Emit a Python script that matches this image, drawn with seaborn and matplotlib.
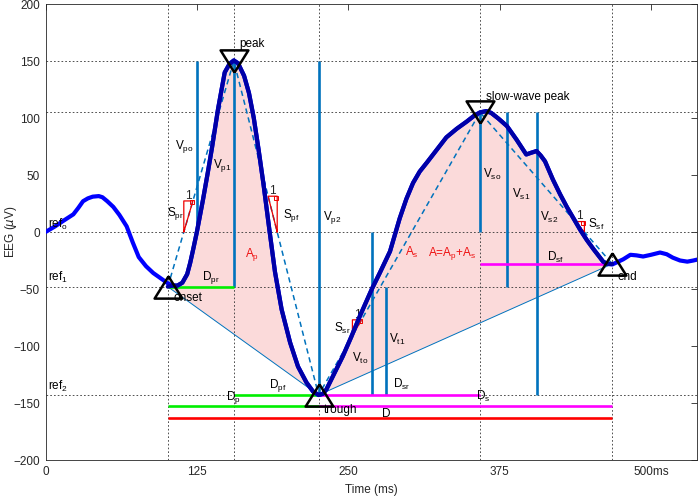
import numpy as np
import pandas as pd
import seaborn as sns
import matplotlib
matplotlib.use('Agg')
import matplotlib.pyplot as plt


#%%
#--Data
#EEG trace (ms, uV)
time_ms = [0, 8, 15, 23, 27, 31, 35, 39, 44, 47, 51, 56, 61, 67, 72, 77, 83, 89, 95, 101,
           105, 109, 113, 117, 119.5, 122, 125, 130, 134, 137.5, 142.5, 148, 152, 155.5,
           159, 164, 168, 172, 176, 180, 184.5, 189.5, 195, 202, 208.5, 215.5, 221, 225.5,
           229, 232, 238.5, 245.5, 252.5, 259.5, 264.5, 269.5, 276, 284.5, 292.5, 298, 303.5,
           309, 315, 323, 331, 339.5, 348, 354, 359, 364, 368, 374, 381, 389, 397, 401,
           405.5, 409, 412.5, 419, 425, 430.5, 436, 441.5, 447, 452.5, 460.5, 464, 468,
           472, 477, 483, 488, 493.5, 500, 507.5, 513, 518, 524, 530, 535, 539]
eeg_uv = [0, 5, 10, 15.5, 21, 27, 29.5, 31, 31.5, 30.5, 27, 22, 15, 5, -9, -22, -30, -36, -40.5, -45,
          -47, -47, -44.5, -37, -27, -15, 0, 28, 52, 74, 108, 140, 147.5, 150.5,
          148, 137, 122, 100, 72, 42, 5, -35, -68, -97, -118, -132, -140, -143,
          -142, -138, -124, -109, -92, -74, -62, -50, -36, -17, 12, 29, 43,
          53, 61, 72, 83, 90.5, 97, 102, 105, 106, 104.5, 99.5, 93, 81, 68, 69.5,
          71, 67, 62, 46, 33, 22, 12, 2, -7, -15, -26, -28, -28.5,
          -26.5, -24, -20, -20.5, -21.5, -20, -18, -19.5, -22.5, -25, -26, -25, -24]

#Events: onset, peak, trough, slow-wave peak, end
ev_names = ['onset', 'peak', 'trough', 'slow-wave peak', 'end']
ev_t = [101, 155.5, 225.5, 358.8, 468]
ev_v = [-48, 150, -143, 105, -28]

#Reference levels (dotted)
ref_levels = [150, 105, 0, -48, -143]

#Vertical amplitude bars V_*
vbar_t = [125, 155.5, 225.5, 269.5, 281, 358.8, 381.5, 405.5]
vbar_top = [150, 150, 150, 0, -48, 105, 105, 105]
vbar_bot = [0, -48, -143, -143, -143, 0, -48, -143]

#Duration bars D_*
dbar_start = [101, 155.5, 101, 225.5, 225.5, 358.8, 101]
dbar_end = [155.5, 225.5, 225.5, 358.8, 468, 468, 468]
dbar_level = [-48, -143, -153, -143, -153, -28, -163]
dbar_color = ['#00ee00', '#00ee00', '#00ee00', '#ff00ff', '#ff00ff', '#ff00ff', '#ff0000']

#Slope triangles: segment index (into event chain) and level of lower corner
tri_seg = [0, 1, 2, 3]
tri_level = [0, 0, -91, 0]
tri_width = 7.5

#Labels
lab_text = ['V$_{po}$', 'V$_{p1}$', 'S$_{pr}$', 'S$_{pf}$', 'V$_{p2}$', 'D$_{pr}$', 'D$_{pf}$',
            'D$_p$', 'D', 'D$_{sr}$', 'D$_s$', 'S$_{sr}$', 'V$_{to}$', 'V$_{t1}$', 'D$_{sf}$',
            'V$_{so}$', 'V$_{s1}$', 'V$_{s2}$', 'S$_{sf}$', 'ref$_o$', 'ref$_1$', 'ref$_2$',
            'peak', 'slow-wave peak', 'onset', 'trough', 'end',
            'A$_p$', 'A$_s$', 'A=A$_p$+A$_s$']
lab_t = [107, 138.6, 100.6, 195.8, 228.9, 129, 184.8,
         148.8, 277.6, 286.7, 355.2, 238.5, 252.8, 283.9, 413.9,
         361.5, 385, 408.3, 447.7, 1.8, 1.8, 1.8,
         160, 363.7, 105.5, 230, 472.2,
         164.7, 296.9, 316.1]
lab_v = [72.5, 56, 13.9, 12.5, 11, -42, -137,
         -147.3, -162, -137, -147.3, -87.8, -113.6, -97.4, -25.6,
         47.6, 30, 9.5, 3.7, 3.7, -43.2, -138.5,
         162, 115.9, -60.8, -159, -41.8,
         -22, -21.3, -21.3]
lab_color = ['black'] * 27 + ['#ee1111'] * 3


#%%
#--Style
sns.set_theme(style='white')
plt.rcParams['font.family'] = ['Liberation Sans', 'DejaVu Sans']
plt.rcParams['mathtext.default'] = 'regular'
plt.rcParams['font.size'] = 8.5

mblue = '#0072BD'
df = pd.DataFrame({'t': time_ms, 'v': eeg_uv})

fig = plt.figure(figsize=(6.99, 4.98), dpi=100)
ax = fig.add_axes([45.5 / 699, 38 / 498, 651.5 / 699, 456 / 498])


#%%
#--Area fills (curve closed by straight baseline)
for a, b in [(0, 2), (2, 4)]:
    t0, t1 = ev_t[a], ev_t[b]
    seg = df[(df.t > t0) & (df.t < t1)]
    xs = [t0] + list(seg.t) + [t1]
    ys = [ev_v[a]] + list(seg.v) + [ev_v[b]]
    ax.fill(xs, ys, color='#fbdada', lw=0, zorder=1)

#Dotted guides
ax.vlines(ev_t, -200, 200, colors='#333333', linestyles=(0, (2, 2.5)), lw=0.6, zorder=2)
ax.hlines(ref_levels, 0, 538, colors='#333333', linestyles=(0, (2, 2.5)), lw=0.6, zorder=2)

#Baseline onset-trough-end
ax.plot([ev_t[0], ev_t[2], ev_t[4]], [ev_v[0], ev_v[2], ev_v[4]], color=mblue, lw=0.7, zorder=3)

#Dashed chain through events
ax.plot(ev_t, ev_v, color=mblue, ls=(0, (3.5, 2.5)), lw=1.1, zorder=3)

#Amplitude bars
ax.vlines(vbar_t, vbar_bot, vbar_top, colors=mblue, lw=1.9, zorder=3)

#Duration bars
for x0, x1, lvl, c in zip(dbar_start, dbar_end, dbar_level, dbar_color):
    ax.plot([x0, x1], [lvl, lvl], color=c, lw=1.9, solid_capstyle='butt', zorder=3)

#Slope triangles
for s, lvl in zip(tri_seg, tri_level):
    ta, tb = ev_t[s], ev_t[s + 1]
    va, vb = ev_v[s], ev_v[s + 1]
    slope = (vb - va) / (tb - ta)
    tc = ta + (lvl - va) / slope
    h = abs(slope) * tri_width
    if slope > 0:
        xs = [tc, tc + tri_width, tc, tc]
    else:
        xs = [tc, tc - tri_width, tc, tc]
    ys = [lvl, lvl + h, lvl + h, lvl]
    ax.plot(xs, ys, color='#ee0000', lw=0.9, zorder=4)
    right = max(xs)
    ax.plot([right - 1.0], [lvl + h - 1.2], marker='s', ms=2.6, mfc='none', mec='#ee0000',
            mew=0.7, zorder=4)
    ax.text((min(xs) + max(xs)) / 2, lvl + h + 2, '1', ha='center', va='baseline', zorder=5)

#EEG trace (full, then onset-end in dark blue)
sns.lineplot(data=df, x='t', y='v', color='#0000ff', lw=3, ax=ax, zorder=5)
core = df[(df.t > ev_t[0]) & (df.t < ev_t[4])]
ax.plot([ev_t[0]] + list(core.t) + [ev_t[4]], [ev_v[0]] + list(core.v) + [ev_v[4]],
        color='#0000a6', lw=3, zorder=6)

#Event markers
up = [(0, 0.8), (-1, -0.8), (1, -0.8), (0, 0.8)]
down = [(0, -0.8), (-1, 0.8), (1, 0.8), (0, -0.8)]
for name, t, v in zip(ev_names, ev_t, ev_v):
    mk = down if 'peak' in name else up
    ax.plot([t], [v], marker=mk, ms=20, mfc='none', mec='black', mew=1.8, zorder=7)

#Labels
for s, t, v, c in zip(lab_text, lab_t, lab_v, lab_color):
    ax.text(t, v, s, color=c, ha='left', va='baseline', zorder=8)


#%%
#--Axes
ax.set_xlim(0, 538)
ax.set_ylim(-200, 200)
ax.set_xticks([0, 125, 250, 375, 500])
ax.set_xticklabels(['0', '125', '250', '375', '500ms'])
ax.set_yticks(np.arange(-200, 201, 50))
ax.tick_params(direction='in', top=True, right=True, length=4, width=0.6,
               colors='#262626', labelsize=8.5, pad=4)
for sp in ax.spines.values():
    sp.set_color('#262626')
    sp.set_linewidth(0.6)
ax.set_xlabel('Time (ms)', fontsize=8.5, color='#262626')
ax.set_ylabel('EEG ($\\mathit{\\mu}$V)', fontsize=8.5, color='#262626')
ax.xaxis.set_label_coords(0.5, -0.052)
ax.yaxis.set_label_coords(-0.04, 0.5)

plt.savefig('out.png', dpi=100)
plt.close()
